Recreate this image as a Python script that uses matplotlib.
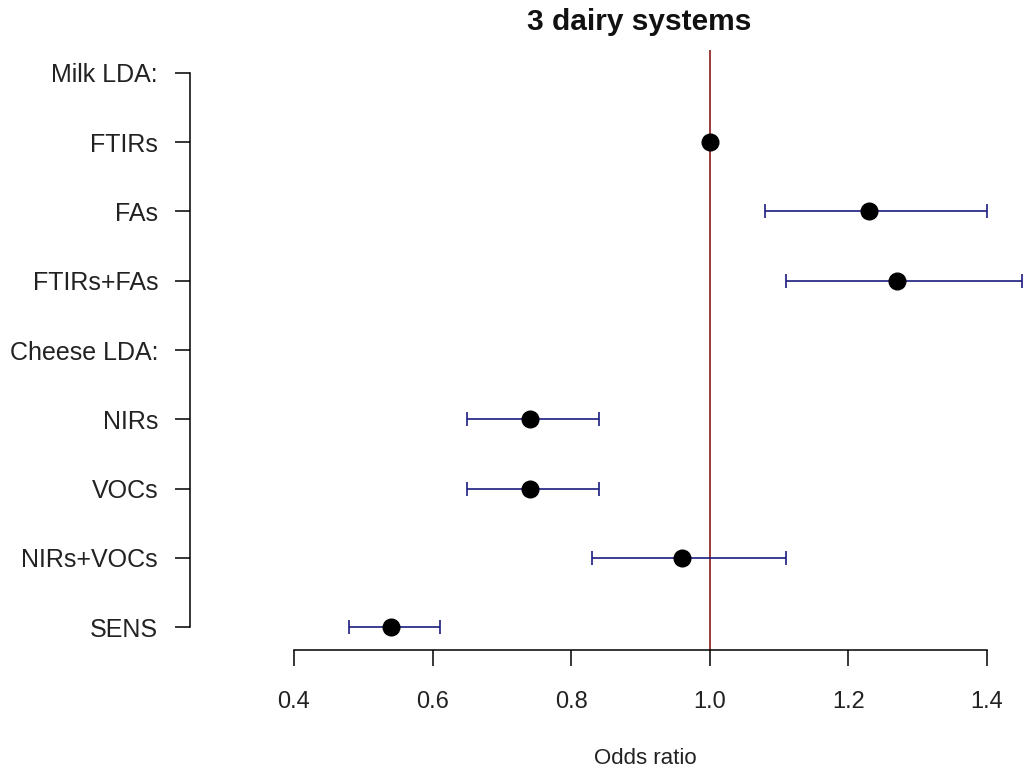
import numpy as np
import matplotlib
matplotlib.use("Agg")
import matplotlib.pyplot as plt

labels = ["Milk LDA:", "FTIRs", "FAs", "FTIRs+FAs", "Cheese LDA:",
          "NIRs", "VOCs", "NIRs+VOCs", "SENS"]
odds = [np.nan, 1.00, 1.23, 1.27, np.nan, 0.74, 0.74, 0.96, 0.54]
lower = [np.nan, np.nan, 1.08, 1.11, np.nan, 0.65, 0.65, 0.83, 0.48]
upper = [np.nan, np.nan, 1.40, 1.45, np.nan, 0.84, 0.84, 1.11, 0.61]
xticks = [0.4, 0.6, 0.8, 1.0, 1.2, 1.4]

plt.rcParams["font.family"] = ["Liberation Sans", "DejaVu Sans"]

fig = plt.figure(figsize=(10.23, 7.78), dpi=100)
ax = fig.add_axes([190 / 1023, 128 / 778, 833 / 1023, 600 / 778])

y = np.arange(len(labels))
odds = np.array(odds)
lower = np.array(lower)
upper = np.array(upper)

# reference line at OR = 1
ax.axvline(1.0, color="#8b1a1a", lw=1.2, zorder=1)

# confidence intervals
ci = ~np.isnan(lower)
ax.errorbar(odds[ci], y[ci], xerr=[odds[ci] - lower[ci], upper[ci] - odds[ci]],
            fmt="none", ecolor="#1c1c80", elinewidth=1.2, capsize=5,
            capthick=1.2, zorder=2)

pt = ~np.isnan(odds)
ax.plot(odds[pt], y[pt], "o", color="black", markersize=12, zorder=3)

ax.set_xlim(0.4 - 104 / 693, 1.4 + 36 / 693)
ax.set_ylim(8 + 0.332, -0.332)

for s in ["top", "right"]:
    ax.spines[s].set_visible(False)
ax.spines["left"].set_bounds(0, 8)
ax.spines["bottom"].set_bounds(0.4, 1.4)
ax.spines["left"].set_linewidth(1.1)
ax.spines["bottom"].set_linewidth(1.1)

ax.set_yticks(y)
ax.set_yticklabels(labels, fontsize=18, color="#222222")
ax.set_xticks(xticks)
ax.set_xticklabels([f"{v:.1f}" for v in xticks], fontsize=17,
                   color="#222222")
ax.tick_params(axis="y", length=11, width=1.1, pad=12)
ax.tick_params(axis="x", length=11.5, width=1.1, pad=18)

fig.text(645 / 1023, 1 - 758 / 778, "Odds ratio", ha="center", va="center",
         fontsize=16, color="#222222")
fig.text(639 / 1023, 1 - 22 / 778, "3 dairy systems", ha="center",
         va="center", fontsize=21.5, fontweight="bold", color="#111111")

fig.savefig("out.png", dpi=100)
